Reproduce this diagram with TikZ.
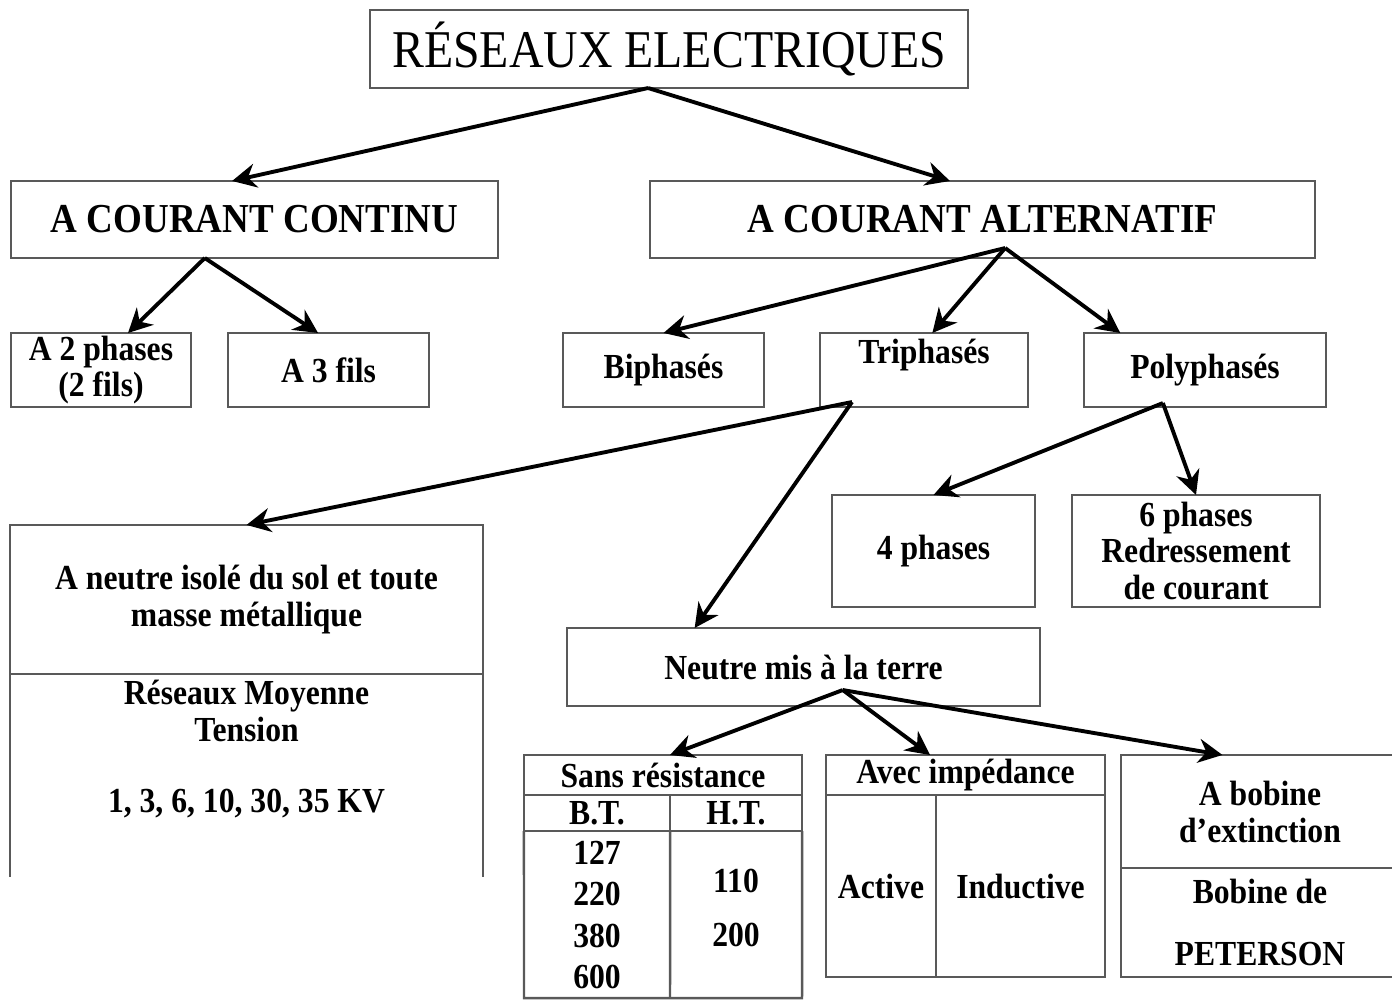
\documentclass[tikz,border=0pt]{standalone}
\usepackage{fontspec}
\setmainfont[FakeStretch=0.9]{Liberation Serif}
\usetikzlibrary{arrows.meta,calc}

\begin{document}
\begin{tikzpicture}[x=0.01cm,y=-0.01cm,>={Stealth[length=2.4mm,width=2.4mm]},
  box/.style={draw=black!65,line width=.7pt,inner sep=0pt,outer sep=0pt,align=center,font=\bfseries\fontsize{10}{10.5}\selectfont},
  grand/.style={box,font=\bfseries\fontsize{11.7}{13}\selectfont},
  texte/.style={align=center,inner sep=0pt,font=\bfseries\fontsize{10}{10.5}\selectfont},
  trait/.style={draw=black!65,line width=.7pt},
  fleche/.style={->,line width=1.1pt}]
\useasboundingbox (0,0) rectangle (1392,1000);

\node[box,font=\fontsize{15.1}{17}\selectfont,minimum width=5.98cm,minimum height=.78cm](reseaux) at (669,49){RÉSEAUX ELECTRIQUES};

\node[grand,minimum width=4.87cm,minimum height=.77cm](continu) at (254.5,219.5){A COURANT CONTINU};
\node[grand,minimum width=6.65cm,minimum height=.77cm](altern) at (982.5,219.5){A COURANT ALTERNATIF};

\node[box,minimum width=1.80cm,minimum height=.74cm](deuxph) at (101,370){A 2 phases\\(2 fils)};
\node[box,minimum width=2.01cm,minimum height=.74cm](troisf) at (328.5,370){A 3 fils};
\node[box,minimum width=2.01cm,minimum height=.74cm](biph) at (663.5,370){Biphasés};
\node[box,minimum width=2.08cm,minimum height=.74cm](triph) at (924,370){Triphasés\\~};
\node[box,minimum width=2.42cm,minimum height=.74cm](poly) at (1205,370){Polyphasés};

\node[box,minimum width=2.03cm,minimum height=1.12cm](quatre) at (933.5,551){4 phases};
\node[box,minimum width=2.48cm,minimum height=1.12cm](six) at (1196,551){6 phases\\Redressement\\de courant};

\node[box,minimum width=4.73cm,minimum height=1.49cm](isole) at (246.5,599.5){A neutre isolé du sol et toute\\masse métallique};
\draw[trait](isole.south west)--++(0,203);
\draw[trait](isole.south east)--++(0,203);
\node[texte](moyenne) at (246.5,749){Réseaux Moyenne\\Tension\\[9.5pt]1, 3, 6, 10, 30, 35 KV};

\node[box,minimum width=4.73cm,minimum height=.78cm](neutre) at (803.5,667){Neutre mis à la terre};

\node[box,minimum width=2.78cm,minimum height=.40cm](sans) at (663,775){Sans résistance};
\node[box,minimum width=1.46cm,minimum height=.36cm](bt) at (597,813){B.T.};
\node[box,minimum width=1.32cm,minimum height=.36cm](ht) at (736,813){H.T.};
\draw[trait](bt.south west)--(524,998)--(802,998)--(ht.south east);
\draw[trait](bt.south east)--(670,998);
\node[texte](btval) at (597,915){127\\[1.3pt]220\\[1.3pt]380\\[1.3pt]600};
\node[texte](htval) at (736,908){110\\[5pt]200};

\node[box,minimum width=2.79cm,minimum height=.40cm](avec) at (965.5,775){Avec impédance};
\node[box,minimum width=1.10cm,minimum height=1.82cm](active) at (881,886){Active};
\node[box,minimum width=1.69cm,minimum height=1.82cm](inductive) at (1020.5,886){Inductive};

\node[box,minimum width=2.78cm,minimum height=1.13cm](bobine) at (1260,811.5){A bobine\\d’extinction};
\node[box,minimum width=2.78cm,minimum height=1.09cm](peterson) at (1260,922.5){Bobine de\\[7pt]PETERSON};

\draw[fleche]($(reseaux.south west)!.465!(reseaux.south east)$)--($(continu.north west)!.454!(continu.north east)$);
\draw[fleche]($(reseaux.south west)!.465!(reseaux.south east)$)--($(altern.north west)!.451!(altern.north east)$);

\draw[fleche]($(continu.south west)!.398!(continu.south east)$)--($(deuxph.north west)!.65!(deuxph.north east)$);
\draw[fleche]($(continu.south west)!.398!(continu.south east)$)--($(troisf.north west)!.448!(troisf.north east)$);

\draw[fleche]($(altern.south west)!.534!(altern.south east)+(0,-10)$)--(biph.north);
\draw[fleche]($(altern.south west)!.534!(altern.south east)+(0,-10)$)--($(triph.north west)!.54!(triph.north east)$);
\draw[fleche]($(altern.south west)!.534!(altern.south east)+(0,-10)$)--($(poly.north west)!.15!(poly.north east)$);

\draw[fleche]($(triph.south west)!.154!(triph.south east)+(0,-5)$)--(isole.north);
\draw[fleche]($(triph.south west)!.154!(triph.south east)+(0,-5)$)--($(neutre.north west)!.27!(neutre.north east)$);

\draw[fleche]($(poly.south west)!.326!(poly.south east)+(0,-4)$)--(quatre.north);
\draw[fleche]($(poly.south west)!.326!(poly.south east)+(0,-4)$)--(six.north);

\draw[fleche]($(neutre.south west)!.583!(neutre.south east)+(0,-16)$)--($(sans.north west)!.525!(sans.north east)$);
\draw[fleche]($(neutre.south west)!.583!(neutre.south east)+(0,-16)$)--($(avec.north west)!.373!(avec.north east)$);
\draw[fleche]($(neutre.south west)!.583!(neutre.south east)+(0,-16)$)--($(bobine.north west)!.365!(bobine.north east)$);

\end{tikzpicture}
\end{document}
